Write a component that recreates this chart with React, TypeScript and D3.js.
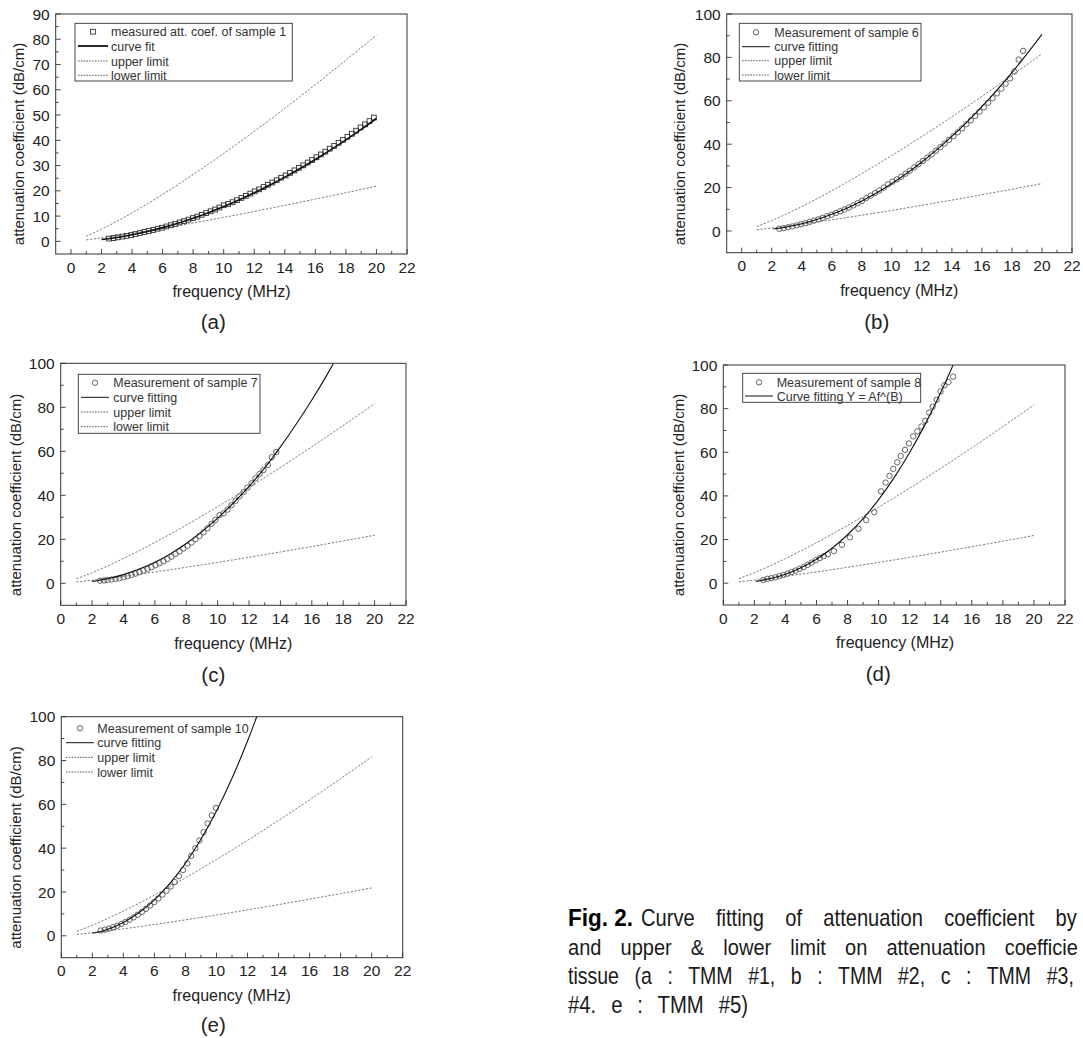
import React, { useLayoutEffect, useRef, useState } from "react";
import * as d3 from "d3";

// ---------- shared limit lines ----------
const limitFreq = [1, 2, 3, 4, 5, 6, 7, 8, 9, 10, 11, 12, 13, 14, 15, 16, 17, 18, 19, 20];
const upperLimit = [2.05, 4.81, 7.92, 11.28, 14.84, 18.57, 22.45, 26.46, 30.59, 34.82, 39.14, 43.56, 48.07, 52.65, 57.32, 62.06, 66.87, 71.75, 76.67, 81.66];
const lowerLimit = [0.6, 1.38, 2.24, 3.17, 4.14, 5.15, 6.2, 7.28, 8.38, 9.51, 10.66, 11.84, 13.03, 14.24, 15.47, 16.72, 17.98, 19.25, 20.54, 21.85];

// ---------- (a) sample 1 ----------
const freqA = [2.49, 2.78, 3.07, 3.36, 3.65, 3.94, 4.22, 4.51, 4.8, 5.09, 5.38, 5.67, 5.96, 6.25, 6.54, 6.83, 7.11, 7.4, 7.69, 7.98, 8.27, 8.56, 8.85, 9.14, 9.43, 9.72, 10.0, 10.29, 10.58, 10.87, 11.16, 11.45, 11.74, 12.03, 12.32, 12.61, 12.89, 13.18, 13.47, 13.76, 14.05, 14.34, 14.63, 14.92, 15.21, 15.5, 15.78, 16.07, 16.36, 16.65, 16.94, 17.23, 17.52, 17.81, 18.1, 18.39, 18.67, 18.96, 19.25, 19.54, 19.83];
const valA = [1.1, 1.3, 1.6, 1.9, 2.2, 2.5, 2.9, 3.3, 3.7, 4.1, 4.5, 5.0, 5.4, 5.9, 6.4, 6.9, 7.5, 8.0, 8.6, 9.2, 9.8, 10.5, 11.2, 11.9, 12.6, 13.4, 14.3, 14.8, 15.5, 16.3, 17.2, 18.0, 18.9, 19.8, 20.6, 21.5, 22.4, 23.3, 24.2, 25.2, 26.1, 27.1, 28.1, 29.1, 30.1, 31.2, 32.2, 33.3, 34.4, 35.5, 36.7, 37.8, 39.0, 40.2, 41.4, 42.6, 43.8, 45.1, 46.3, 47.6, 49.0];
const fitFreqA = [2, 3, 4, 5, 6, 7, 8, 9, 10, 11, 12, 13, 14, 15, 16, 17, 18, 19, 20];
const fitValA = [0.74, 1.54, 2.6, 3.9, 5.44, 7.2, 9.18, 11.37, 13.78, 16.39, 19.21, 22.22, 25.43, 28.83, 32.42, 36.19, 40.17, 44.33, 48.67];
const legendA = ["measured att. coef. of sample 1", "curve fit", "upper limit", "lower limit"];

// ---------- (b) sample 6 ----------
const freqB = [2.5, 2.79, 3.08, 3.37, 3.66, 3.95, 4.24, 4.53, 4.82, 5.11, 5.4, 5.69, 5.98, 6.27, 6.56, 6.85, 7.14, 7.43, 7.72, 8.01, 8.3, 8.59, 8.88, 9.17, 9.46, 9.75, 10.04, 10.33, 10.62, 10.91, 11.2, 11.49, 11.78, 12.07, 12.36, 12.65, 12.94, 13.23, 13.52, 13.81, 14.1, 14.39, 14.68, 14.97, 15.26, 15.55, 15.84, 16.13, 16.42, 16.71, 17.0, 17.29, 17.58, 17.87, 18.16, 18.45, 18.74];
const valB = [1.0, 1.3, 1.7, 2.1, 2.6, 3.1, 3.6, 4.2, 4.8, 5.4, 6.1, 6.8, 7.5, 8.3, 9.1, 9.9, 10.8, 11.8, 12.8, 13.9, 15.2, 16.3, 17.5, 18.7, 20.0, 21.5, 22.7, 23.8, 25.0, 26.4, 27.8, 29.3, 30.8, 32.3, 33.8, 35.3, 37.0, 38.6, 40.3, 42.0, 43.7, 45.5, 47.3, 49.2, 51.0, 53.0, 55.0, 57.0, 59.1, 61.2, 63.4, 65.6, 67.9, 70.3, 73.5, 79.0, 83.0];
const fitFreqB = [2.1, 3, 4, 5, 6, 7, 8, 9, 10, 11, 12, 13, 14, 15, 16, 17, 18, 19, 20];
const fitValB = [0.89, 1.85, 3.34, 5.28, 7.68, 10.5, 13.85, 17.6, 21.9, 26.6, 31.8, 37.5, 43.6, 50.2, 57.3, 64.9, 73.0, 81.6, 90.6];
const legendB = ["Measurement of sample 6", "curve fitting", "upper limit", "lower limit"];

// ---------- (c) sample 7 ----------
const freqC = [2.51, 2.76, 2.98, 3.23, 3.49, 3.74, 4.0, 4.25, 4.51, 4.76, 5.02, 5.27, 5.53, 5.78, 6.04, 6.29, 6.55, 6.8, 7.06, 7.31, 7.57, 7.82, 8.08, 8.33, 8.59, 8.84, 9.1, 9.35, 9.61, 9.86, 10.12, 10.37, 10.63, 10.88, 11.14, 11.39, 11.65, 11.9, 12.16, 12.41, 12.67, 12.92, 13.2, 13.45, 13.73];
const valC = [1.2, 1.3, 1.5, 1.7, 2.0, 2.3, 2.7, 3.2, 3.8, 4.4, 5.0, 5.8, 6.5, 7.3, 8.2, 9.1, 10.0, 11.0, 12.1, 13.3, 14.5, 15.8, 17.0, 18.5, 20.0, 21.5, 23.2, 25.0, 27.0, 28.8, 31.0, 31.8, 33.5, 35.5, 37.5, 39.5, 41.5, 43.5, 45.5, 47.7, 49.7, 51.5, 53.8, 57.3, 59.7];
const fitFreqC = [2, 3, 4, 5, 6, 7, 8, 9, 10, 11, 12, 13, 14, 15, 16, 17, 17.6];
const fitValC = [0.86, 2.09, 3.95, 6.45, 9.6, 13.5, 18.1, 23.5, 29.6, 36.5, 44.1, 52.5, 62.0, 72.3, 83.3, 95.2, 102.8];
const legendC = ["Measurement of sample 7", "curve fitting", "upper limit", "lower limit"];

// ---------- (d) sample 8 ----------
const freqD = [2.57, 2.83, 3.09, 3.35, 3.61, 3.87, 4.13, 4.39, 4.65, 4.91, 5.17, 5.43, 5.69, 5.95, 6.21, 6.47, 6.73, 7.12, 7.64, 8.15, 8.7, 9.2, 9.72, 10.15, 10.45, 10.7, 10.94, 11.2, 11.42, 11.7, 11.95, 12.23, 12.49, 12.75, 13.0, 13.26, 13.48, 13.73, 13.99, 14.23, 14.5, 14.8];
const valD = [1.5, 2.0, 2.3, 2.7, 3.2, 3.8, 4.4, 5.1, 5.8, 6.6, 7.4, 8.4, 9.4, 10.5, 11.5, 12.4, 13.3, 14.7, 17.6, 21.0, 24.9, 28.9, 32.5, 42.1, 46.1, 49.2, 52.4, 55.4, 58.3, 61.1, 64.0, 67.3, 69.6, 71.8, 74.4, 78.2, 80.9, 84.0, 87.9, 90.7, 92.2, 94.7];
const fitFreqD = [2.1, 3, 4, 5, 6, 7, 8, 9, 10, 11, 12, 13, 14, 14.8, 15];
const fitValD = [0.84, 2.01, 4.06, 7.02, 10.96, 16.0, 22.2, 29.6, 38.3, 48.4, 59.9, 72.9, 87.4, 100.1, 103.5];
const legendD = ["Measurement of sample 8", "Curve fitting Y = Af^(B)"];

// ---------- (e) sample 10 ----------
const freqE = [2.54, 2.81, 3.07, 3.34, 3.6, 3.87, 4.13, 4.4, 4.66, 4.93, 5.19, 5.46, 5.72, 5.99, 6.25, 6.52, 6.78, 7.05, 7.31, 7.58, 7.84, 8.11, 8.37, 8.64, 8.9, 9.17, 9.43, 9.7, 9.96];
const valE = [2.4, 2.8, 3.3, 3.9, 4.6, 5.4, 6.3, 7.3, 8.4, 9.6, 10.9, 12.3, 13.8, 15.4, 17.0, 18.8, 20.6, 22.5, 24.5, 27.2, 30.0, 33.0, 36.5, 40.0, 43.5, 47.3, 51.3, 55.0, 58.4];
const fitFreqE = [2, 3, 4, 5, 6, 7, 8, 9, 10, 11, 12, 12.6, 12.8];
const fitValE = [1.12, 3.02, 6.1, 10.5, 16.4, 23.9, 33.1, 44.1, 57.0, 71.9, 88.9, 100.1, 104];
const legendE = ["Measurement of sample 10", "curve fitting", "upper limit", "lower limit"];

const captionLines = [
  "Curve fitting of attenuation coefficient by",
  "and upper & lower limit on attenuation coefficie",
  "tissue (a : TMM #1, b : TMM #2, c : TMM #3,",
  "#4. e : TMM #5)",
];

const FONT = "'Liberation Sans', Arial, Helvetica, sans-serif";
const TXT = "#222";

type Panel = {
  id: string;
  l: number; t: number; r: number; b: number;
  xDom: [number, number]; yDom: [number, number]; yMajor: number;
  marker: "square" | "circle";
  freq: number[]; val: number[]; fitF: number[]; fitV: number[]; fitW: number;
  legend: { box: [number, number, number, number] | null; rows: number[]; sx0: number; sx1: number; tx: number; labels: string[]; bold: boolean };
  ylab: [number, number]; xlab: [number, number]; cap: [number, number];
};

const panels: Panel[] = [
  {
    id: "a", l: 55.7, t: 14, r: 407, b: 254, xDom: [-1, 22], yDom: [-5, 90], yMajor: 10,
    marker: "square", freq: freqA, val: valA, fitF: fitFreqA, fitV: fitValA, fitW: 1.6,
    legend: { box: [75, 23.3, 217.3, 57.7], rows: [31.7, 46, 61, 75.3], sx0: 78, sx1: 108, tx: 111, labels: legendA, bold: true },
    ylab: [18.5, 144], xlab: [231.5, 297], cap: [213.3, 329],
  },
  {
    id: "b", l: 726.7, t: 14, r: 1072, b: 252.7, xDom: [-1, 22], yDom: [-10, 100], yMajor: 20,
    marker: "circle", freq: freqB, val: valB, fitF: fitFreqB, fitV: fitValB, fitW: 1.1,
    legend: { box: [739.3, 23.3, 181.7, 57.7], rows: [32.3, 46.7, 60.7, 75], sx0: 742, sx1: 770, tx: 774.3, labels: legendB, bold: false },
    ylab: [680, 144], xlab: [899.3, 295.5], cap: [876.7, 329],
  },
  {
    id: "c", l: 60.7, t: 363.3, r: 406, b: 605.3, xDom: [0, 22], yDom: [-10, 100], yMajor: 20,
    marker: "circle", freq: freqC, val: valC, fitF: fitFreqC, fitV: fitValC, fitW: 1.1,
    legend: { box: [78.3, 374.3, 181.7, 59], rows: [382.7, 397.3, 412, 426.7], sx0: 81, sx1: 109, tx: 113.3, labels: legendC, bold: false },
    ylab: [15.5, 495], xlab: [233.3, 648.5], cap: [213.3, 682],
  },
  {
    id: "d", l: 723.3, t: 365, r: 1065, b: 605, xDom: [0, 22], yDom: [-10, 100], yMajor: 20,
    marker: "circle", freq: freqD, val: valD, fitF: fitFreqD, fitV: fitValD, fitW: 1.1,
    legend: { box: [742.7, 373.3, 178, 29], rows: [382.3, 396], sx0: 745, sx1: 773, tx: 776.7, labels: legendD, bold: false },
    ylab: [678.3, 495], xlab: [895, 648], cap: [878.3, 681],
  },
  {
    id: "e", l: 61.3, t: 716.7, r: 402.7, b: 957.7, xDom: [0, 22], yDom: [-10, 100], yMajor: 20,
    marker: "circle", freq: freqE, val: valE, fitF: fitFreqE, fitV: fitValE, fitW: 1.1,
    legend: { box: null, rows: [728.3, 742.7, 757.3, 772], sx0: 66, sx1: 94, tx: 97.3, labels: legendE, bold: false },
    ylab: [15.5, 847.5], xlab: [231.7, 1000.5], cap: [213.3, 1032],
  },
];

function PanelView({ p }: { p: Panel }) {
  const x = d3.scaleLinear().domain(p.xDom).range([p.l, p.r]);
  const y = d3.scaleLinear().domain(p.yDom).range([p.b, p.t]);
  const line = d3.line<[number, number]>().x((d) => x(d[0])).y((d) => y(d[1])).curve(d3.curveMonotoneX);
  const upper = line(limitFreq.map((f, i) => [f, upperLimit[i]]));
  const lower = line(limitFreq.map((f, i) => [f, lowerLimit[i]]));
  const fit = line(p.fitF.map((f, i) => [f, p.fitV[i]]));
  const clipId = "clip-" + p.id;

  const xTicks = d3.range(0, 23, 1).filter((v) => v >= p.xDom[0] && v <= p.xDom[1]);
  const yMinorStep = p.yMajor / 2;
  const yTicks = d3.range(0, p.yDom[1] + 0.01, yMinorStep);

  const dash = "2.2,1.6";
  const legendSymbol = (i: number, ry: number) => {
    const mid = (p.legend.sx0 + p.legend.sx1) / 2;
    if (i === 0) {
      return p.marker === "square" ? (
        <rect x={mid - 2.4} y={ry - 2.4} width={4.8} height={4.8} fill="none" stroke="#333" strokeWidth={0.9} />
      ) : (
        <circle cx={mid} cy={ry} r={2.7} fill="none" stroke="#555" strokeWidth={0.9} />
      );
    }
    if (i === 1) {
      return <line x1={p.legend.sx0} x2={p.legend.sx1} y1={ry} y2={ry} stroke="#111" strokeWidth={p.legend.bold ? 1.8 : 1} />;
    }
    return <line x1={p.legend.sx0} x2={p.legend.sx1} y1={ry} y2={ry} stroke="#333" strokeWidth={0.8} strokeDasharray="1.6,1.2" />;
  };

  return (
    <g>
      <defs>
        <clipPath id={clipId}>
          <rect x={p.l} y={p.t} width={p.r - p.l} height={p.b - p.t} />
        </clipPath>
      </defs>
      <g clipPath={`url(#${clipId})`}>
        <path d={upper || ""} fill="none" stroke="#7a7a7a" strokeWidth={1} strokeDasharray={dash} />
        <path d={lower || ""} fill="none" stroke="#7a7a7a" strokeWidth={1} strokeDasharray={dash} />
        {p.freq.map((f, i) =>
          p.marker === "square" ? (
            <rect key={i} x={x(f) - 2.4} y={y(p.val[i]) - 2.4} width={4.8} height={4.8} fill="none" stroke="#333" strokeWidth={0.9} />
          ) : (
            <circle key={i} cx={x(f)} cy={y(p.val[i])} r={2.7} fill="none" stroke="#555" strokeWidth={0.9} />
          )
        )}
        <path d={fit || ""} fill="none" stroke="#111" strokeWidth={p.fitW} />
      </g>
      <rect x={p.l} y={p.t} width={p.r - p.l} height={p.b - p.t} fill="none" stroke="#333" strokeWidth={1} />
      {xTicks.map((v) => {
        const major = v % 2 === 0;
        return (
          <g key={"x" + v}>
            <line x1={x(v)} x2={x(v)} y1={p.b} y2={p.b - (major ? 5 : 3)} stroke="#333" strokeWidth={0.9} />
            {major && (
              <text x={x(v)} y={p.b + 18.5} textAnchor="middle" fontSize={15.5} fill={TXT} fontFamily={FONT}>
                {v}
              </text>
            )}
          </g>
        );
      })}
      {yTicks.map((v) => {
        const major = Math.abs(v % p.yMajor) < 1e-6;
        return (
          <g key={"y" + v}>
            <line x1={p.l} x2={p.l + (major ? 5 : 3)} y1={y(v)} y2={y(v)} stroke="#333" strokeWidth={0.9} />
            {major && (
              <text x={p.l - 6} y={y(v)} dy="0.36em" textAnchor="end" fontSize={15.5} fill={TXT} fontFamily={FONT}>
                {v}
              </text>
            )}
          </g>
        );
      })}
      {p.legend.box && (
        <rect x={p.legend.box[0]} y={p.legend.box[1]} width={p.legend.box[2]} height={p.legend.box[3]} fill="#fff" stroke="#333" strokeWidth={0.9} />
      )}
      {p.legend.labels.map((lab, i) => (
        <g key={"lg" + i}>
          {legendSymbol(i, p.legend.rows[i])}
          <text x={p.legend.tx} y={p.legend.rows[i]} dy="0.36em" fontSize={12.5} fill="#333" fontFamily={FONT}>
            {lab}
          </text>
        </g>
      ))}
      <text x={p.xlab[0]} y={p.xlab[1]} textAnchor="middle" fontSize={16} fill={TXT} fontFamily={FONT}>
        frequency (MHz)
      </text>
      <text
        transform={`translate(${p.ylab[0]},${p.ylab[1]}) rotate(-90)`}
        textAnchor="middle"
        dy="0.36em"
        fontSize={15}
        fill={TXT}
        fontFamily={FONT}
      >
        attenuation coefficient (dB/cm)
      </text>
      <text x={p.cap[0]} y={p.cap[1]} textAnchor="middle" fontSize={20.5} fill={TXT} fontFamily={FONT}>
        ({p.id})
      </text>
    </g>
  );
}

// A caption line squeezed horizontally (measured) so that it fills a given width.
function FitLine(props: { x: number; y: number; width: number; ws: number; bold?: boolean; text: string }) {
  const ref = useRef<SVGTextElement>(null);
  const [s, setS] = useState(0.88);
  useLayoutEffect(() => {
    if (ref.current) {
      const w = ref.current.getBBox().width;
      if (w > 0) setS(props.width / w);
    }
  }, [props.width, props.text]);
  return (
    <text
      ref={ref}
      transform={`translate(${props.x},${props.y}) scale(${s},1)`}
      wordSpacing={props.ws}
      fontWeight={props.bold ? 700 : 400}
      fill={props.bold ? "#000" : "#1a1a1a"}
    >
      {props.text}
    </text>
  );
}

export default function App() {
  return (
    <svg
      width={1083}
      height={1038}
      viewBox="0 0 1083 1038"
      style={{ position: "absolute", left: 0, top: 0, background: "#fff" }}
    >
      <rect x={0} y={0} width={1083} height={1038} fill="#fff" />
      {panels.map((p) => (
        <PanelView key={p.id} p={p} />
      ))}
      <g fontFamily={FONT} fontSize={23}>
        <FitLine x={568} y={926} width={65} ws={0} bold text="Fig. 2." />
        <FitLine x={641} y={926} width={436} ws={18} text={captionLines[0]} />
        <FitLine x={568} y={955} width={510} ws={15.5} text={captionLines[1]} />
        <FitLine x={568} y={984} width={506} ws={12} text={captionLines[2]} />
        <FitLine x={568} y={1013} width={180} ws={10.5} text={captionLines[3]} />
      </g>
    </svg>
  );
}
